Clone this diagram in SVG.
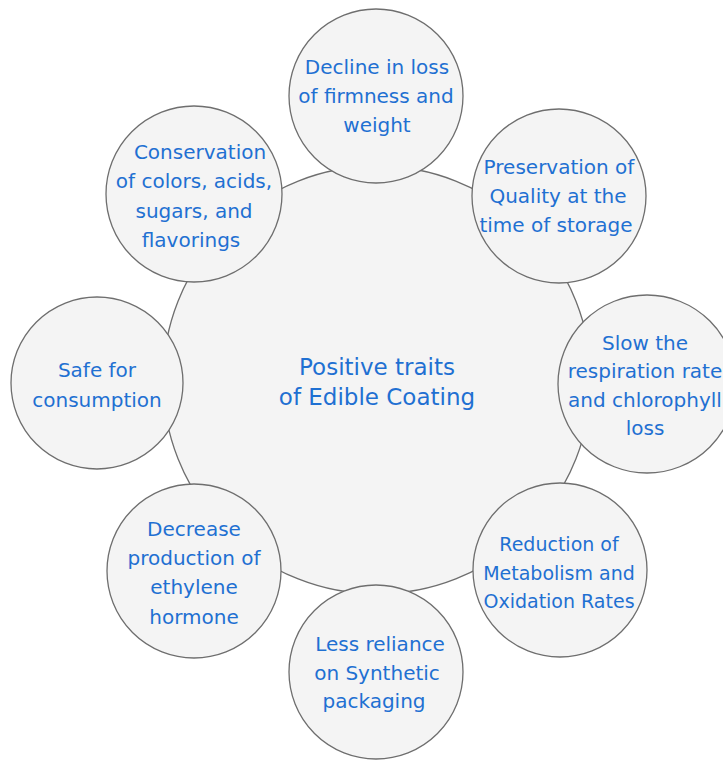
<svg xmlns="http://www.w3.org/2000/svg" width="723" height="760" viewBox="0 0 723 760">
  <style>
    .bubble { fill: #f4f4f4; stroke: #6e6e6e; stroke-width: 1.3; }
    .label { font-family: "DejaVu Sans", Verdana, sans-serif; font-size: 20px; fill: #1f70d2; text-anchor: middle; }
    .small { font-size: 19px; }
    .title { font-size: 23px; }
  </style>
  <rect width="723" height="760" fill="#ffffff"/>

  <!-- central hub -->
  <g id="hub">
    <circle class="bubble" cx="377" cy="380" r="214"/>
    <text class="label title" x="377" y="375">Positive traits</text>
    <text class="label title" x="377" y="405">of Edible Coating</text>
  </g>

  <!-- surrounding traits -->
  <g id="firmness">
    <circle class="bubble" cx="376" cy="96" r="87"/>
    <text class="label" x="377" y="74">Decline in loss</text>
    <text class="label" x="376" y="103">of firmness and</text>
    <text class="label" x="377" y="132">weight</text>
  </g>

  <g id="quality">
    <circle class="bubble" cx="559" cy="196" r="87"/>
    <text class="label" x="559" y="174">Preservation of</text>
    <text class="label" x="558" y="203">Quality at the</text>
    <text class="label" x="556" y="232">time of storage</text>
  </g>

  <g id="respiration">
    <circle class="bubble" cx="647" cy="384" r="89"/>
    <text class="label" x="645" y="350">Slow the</text>
    <text class="label" x="645" y="378">respiration rate</text>
    <text class="label" x="645" y="407">and chlorophyll</text>
    <text class="label" x="645" y="435">loss</text>
  </g>

  <g id="metabolism">
    <circle class="bubble" cx="560" cy="570" r="87"/>
    <text class="label small" x="559" y="551">Reduction of</text>
    <text class="label small" x="559" y="580">Metabolism and</text>
    <text class="label small" x="559" y="608">Oxidation Rates</text>
  </g>

  <g id="packaging">
    <circle class="bubble" cx="376" cy="672" r="87"/>
    <text class="label" x="380" y="651">Less reliance</text>
    <text class="label" x="377" y="680">on Synthetic</text>
    <text class="label" x="374" y="708">packaging</text>
  </g>

  <g id="ethylene">
    <circle class="bubble" cx="194" cy="571" r="87"/>
    <text class="label" x="194" y="536">Decrease</text>
    <text class="label" x="194" y="565">production of</text>
    <text class="label" x="194" y="594">ethylene</text>
    <text class="label" x="194" y="624">hormone</text>
  </g>

  <g id="safety">
    <circle class="bubble" cx="97" cy="383" r="86"/>
    <text class="label" x="97" y="377">Safe for</text>
    <text class="label" x="97" y="407">consumption</text>
  </g>

  <g id="flavor">
    <circle class="bubble" cx="194" cy="194" r="88"/>
    <text class="label" x="200" y="159">Conservation</text>
    <text class="label" x="194" y="188">of colors, acids,</text>
    <text class="label" x="194" y="218">sugars, and</text>
    <text class="label" x="191" y="247">flavorings</text>
  </g>
</svg>
